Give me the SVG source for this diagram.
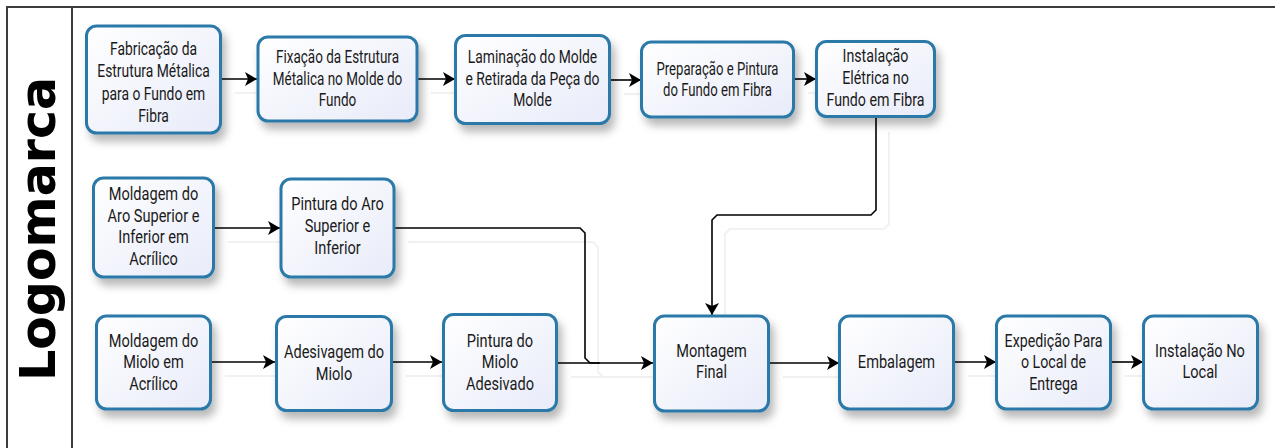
<svg xmlns="http://www.w3.org/2000/svg" width="1275" height="448" viewBox="0 0 1275 448">
<style>
.box{fill:url(#bg);stroke:#2a79a8;stroke-width:3;filter:url(#sh)}
.t{font-family:Roboto,"Liberation Sans",sans-serif;font-size:18px;fill:#1a1a1a;text-anchor:middle}
.c{fill:none;stroke:#000;stroke-width:1.6;marker-end:url(#ah)}
.c0{fill:none;stroke:#000;stroke-width:1.6}
.cs{fill:none;stroke:#f1f1f1;stroke-width:2}
.frame{stroke:#3c3c3c;stroke-width:2;fill:none}
</style>
<defs>
<linearGradient id="bg" x1="0" y1="0" x2="1" y2="1">
<stop offset="0" stop-color="#ffffff"/>
<stop offset="1" stop-color="#e8ebf9"/>
</linearGradient>
<filter id="sh" x="-20%" y="-20%" width="150%" height="150%">
<feDropShadow dx="4" dy="7" stdDeviation="4" flood-color="#000" flood-opacity="0.28"/>
</filter>
<marker id="ah" markerWidth="13" markerHeight="14" refX="12" refY="7" orient="auto" markerUnits="userSpaceOnUse">
<path d="M0,0 L12,7 L0,14 L3,7 Z" fill="#000"/>
</marker>
</defs>
<rect width="1275" height="448" fill="#fff"/>
<g id="frame">
<path class="frame" d="M6,7 H1275 M7,7 V448 M72,7 V448"/>
<text x="0" y="0" transform="translate(55 229) rotate(-90)" font-family="'DejaVu Sans',sans-serif" font-weight="bold" font-size="49" text-anchor="middle" fill="#000">Logomarca</text>
</g>
<g id="connector-shadows" transform="translate(13 14)">
<path class="cs" d="M222,79 H256 M418,79 H454 M611,80 H640 M795,79 H815"/>
<path class="cs" d="M876,118 V210 L871,215 H717 L712,220 V314"/>
<path class="cs" d="M215,228 H279 M395,228 H580 L585,233 V358 L590,363 H652"/>
<path class="cs" d="M212,362 H274 M393,362 H441 M558,363 H652 M770,363 H838 M955,362 H995 M1112,362 H1142"/>
</g>
<g id="connectors">
<path class="c" d="M222,79 H257"/>
<path class="c" d="M418,79 H455"/>
<path class="c" d="M611,80 H641"/>
<path class="c" d="M795,79 H816"/>
<path class="c" d="M876,118 V210 L871,215 H717 L712,220 V315"/>
<path class="c" d="M215,228 H280"/>
<path class="c0" d="M395,228 H580 L585,233 V358 L590,363 H600"/>
<path class="c" d="M212,362 H275"/>
<path class="c" d="M393,362 H442"/>
<path class="c" d="M558,363 H653"/>
<path class="c" d="M770,363 H839"/>
<path class="c" d="M955,362 H996"/>
<path class="c" d="M1112,362 H1143"/>
</g>
<g id="n1"><rect class="box" x="86.5" y="26" width="134" height="107" rx="10"/>
<text class="t" transform="translate(153.5 0) scale(0.77 1)"><tspan x="0" y="55">Fabricação da</tspan><tspan x="0" y="77.5">Estrutura Métalica</tspan><tspan x="0" y="100">para o Fundo em</tspan><tspan x="0" y="122">Fibra</tspan></text></g>
<g id="n2"><rect class="box" x="258" y="37" width="159" height="84" rx="10"/>
<text class="t" transform="translate(337.5 0) scale(0.75 1)"><tspan x="0" y="63">Fixação da Estrutura</tspan><tspan x="0" y="85">Métalica no Molde do</tspan><tspan x="0" y="106.5">Fundo</tspan></text></g>
<g id="n3"><rect class="box" x="455.5" y="35.5" width="154" height="88" rx="10"/>
<text class="t" transform="translate(532.5 0) scale(0.77 1)"><tspan x="0" y="63">Laminação do Molde</tspan><tspan x="0" y="85">e Retirada da Peça do</tspan><tspan x="0" y="106.5">Molde</tspan></text></g>
<g id="n4"><rect class="box" x="641.5" y="42" width="152" height="75" rx="10"/>
<text class="t" transform="translate(717.5 0) scale(0.73 1)"><tspan x="0" y="75">Preparação e Pintura</tspan><tspan x="0" y="96.5">do Fundo em Fibra</tspan></text></g>
<g id="n5"><rect class="box" x="816.5" y="41.5" width="118" height="75" rx="10"/>
<text class="t" transform="translate(875.5 0) scale(0.79 1)"><tspan x="0" y="62">Instalação</tspan><tspan x="0" y="84">Elétrica no</tspan><tspan x="0" y="106.5">Fundo em Fibra</tspan></text></g>
<g id="n6"><rect class="box" x="93.5" y="178" width="120" height="99" rx="10"/>
<text class="t" transform="translate(153.5 0) scale(0.81 1)"><tspan x="0" y="200">Moldagem do</tspan><tspan x="0" y="222">Aro Superior e</tspan><tspan x="0" y="243.5">Inferior em</tspan><tspan x="0" y="265">Acrílico</tspan></text></g>
<g id="n7"><rect class="box" x="281" y="179" width="113" height="98" rx="10"/>
<text class="t" transform="translate(337.5 0) scale(0.81 1)"><tspan x="0" y="210">Pintura do Aro</tspan><tspan x="0" y="232">Superior e</tspan><tspan x="0" y="254">Inferior</tspan></text></g>
<g id="n8"><rect class="box" x="96.5" y="316" width="114" height="93" rx="10"/>
<text class="t" transform="translate(153.5 0) scale(0.81 1)"><tspan x="0" y="347">Moldagem do</tspan><tspan x="0" y="368.5">Miolo em</tspan><tspan x="0" y="390">Acrílico</tspan></text></g>
<g id="n9"><rect class="box" x="276.5" y="316.5" width="115" height="94" rx="10"/>
<text class="t" transform="translate(334 0) scale(0.81 1)"><tspan x="0" y="358">Adesivagem do</tspan><tspan x="0" y="380">Miolo</tspan></text></g>
<g id="n10"><rect class="box" x="443.5" y="314.5" width="113" height="96" rx="10"/>
<text class="t" transform="translate(500 0) scale(0.81 1)"><tspan x="0" y="347">Pintura do</tspan><tspan x="0" y="368.5">Miolo</tspan><tspan x="0" y="390">Adesivado</tspan></text></g>
<g id="n11"><rect class="box" x="654.5" y="316" width="114" height="95" rx="10"/>
<text class="t" transform="translate(711.5 0) scale(0.81 1)"><tspan x="0" y="357">Montagem</tspan><tspan x="0" y="378.5">Final</tspan></text></g>
<g id="n12"><rect class="box" x="839.5" y="316" width="114" height="93" rx="10"/>
<text class="t" transform="translate(896.5 0) scale(0.81 1)"><tspan x="0" y="368">Embalagem</tspan></text></g>
<g id="n13"><rect class="box" x="996.5" y="316" width="114" height="93" rx="10"/>
<text class="t" transform="translate(1053.5 0) scale(0.79 1)"><tspan x="0" y="347">Expedição Para</tspan><tspan x="0" y="368.5">o Local de</tspan><tspan x="0" y="390">Entrega</tspan></text></g>
<g id="n14"><rect class="box" x="1143.5" y="316" width="114" height="93" rx="10"/>
<text class="t" transform="translate(1200 0) scale(0.81 1)"><tspan x="0" y="357">Instalação No</tspan><tspan x="0" y="378.5">Local</tspan></text></g>
</svg>
